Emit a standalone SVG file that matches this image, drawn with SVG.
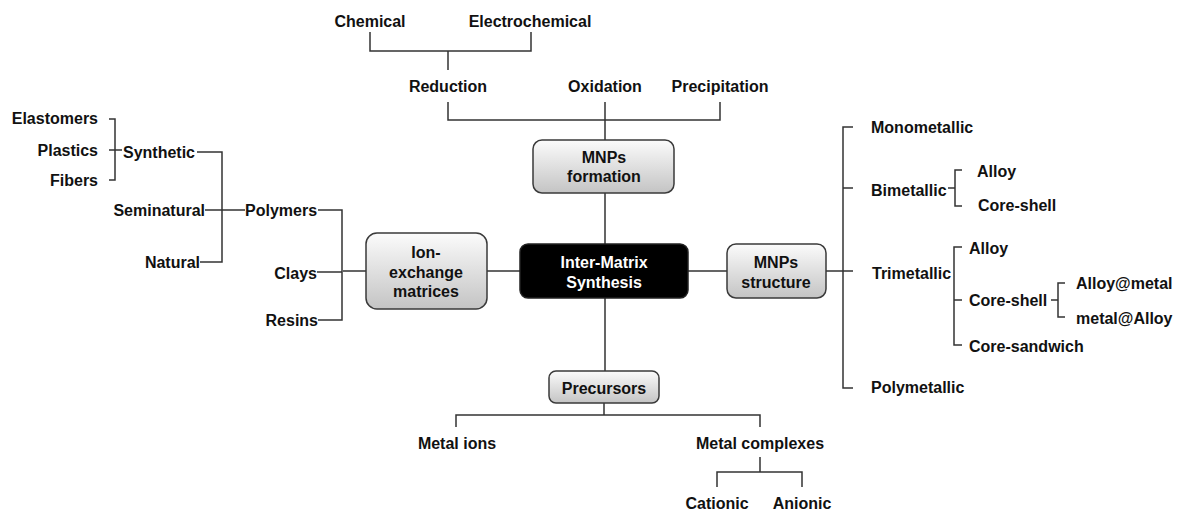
<svg xmlns="http://www.w3.org/2000/svg" width="1181" height="513" viewBox="0 0 1181 513">
<defs>
<linearGradient id="g" x1="0" y1="0" x2="0" y2="1">
<stop offset="0" stop-color="#fbfbfb"/>
<stop offset="1" stop-color="#c4c4c4"/>
</linearGradient>
<style>
text{font-family:"Liberation Sans",Arial,sans-serif;font-weight:bold;font-size:16px;fill:#111;dominant-baseline:central}
.m{text-anchor:middle}
.r{text-anchor:end}
.w{fill:#fff}
.box{fill:url(#g);stroke:#3a3a3a;stroke-width:1.5}
.blk{fill:#000;stroke:#222;stroke-width:1.5}
#connectors path{fill:none;stroke:#333;stroke-width:1.5}
</style>
</defs>
<rect width="1181" height="513" fill="#fff"/>
<g id="connectors">
<path d="M370 32V51H531V32M448 51V70"/>
<path d="M448 102V120H720V102M605 102V140"/>
<path d="M605 193V244M605 298V371M604 403V415M456 427V415H760V427M760 457V472M717 487V472H802V487"/>
<path d="M487 271H520M343 271H366M688 271H727M826 271H853"/>
<path d="M853 127H843V388H853M843 188H853"/>
<path d="M948 188H955M962 170H955V206H962"/>
<path d="M962 247H954V345H962M954 300H962"/>
<path d="M1051 300H1058M1065 283H1058V317H1065"/>
<path d="M109 119H115V180H109M109 150H122"/>
<path d="M197 152H222V262H200M205 210H245"/>
<path d="M318 210H342V320H318M317 272H342"/>
</g>
<g id="n-chemical"><text class="m" x="370" y="21">Chemical</text></g>
<g id="n-electrochemical"><text class="m" x="530" y="21">Electrochemical</text></g>
<g id="n-reduction"><text class="m" x="448" y="86">Reduction</text></g>
<g id="n-oxidation"><text class="m" x="605" y="86">Oxidation</text></g>
<g id="n-precipitation"><text class="m" x="720" y="86">Precipitation</text></g>
<g id="n-formation"><rect class="box" x="533" y="140" width="141" height="53" rx="9"/><text class="m" x="604" y="157">MNPs</text><text class="m" x="604" y="176">formation</text></g>
<g id="n-center"><rect class="blk" x="520" y="244" width="168" height="54" rx="8"/><text class="m w" x="604" y="262">Inter-Matrix</text><text class="m w" x="604" y="282">Synthesis</text></g>
<g id="n-ion"><rect class="box" x="366" y="233" width="121" height="76" rx="11"/><text class="m" x="426" y="252">Ion-</text><text class="m" x="426" y="272">exchange</text><text class="m" x="426" y="291">matrices</text></g>
<g id="n-structure"><rect class="box" x="727" y="244" width="99" height="54" rx="9"/><text class="m" x="776" y="262">MNPs</text><text class="m" x="776" y="282">structure</text></g>
<g id="n-precursors"><rect class="box" x="549" y="371" width="110" height="32" rx="7"/><text class="m" x="604" y="388">Precursors</text></g>
<g id="n-metalions"><text class="m" x="457" y="443">Metal ions</text></g>
<g id="n-metalcomplexes"><text class="m" x="760" y="443">Metal complexes</text></g>
<g id="n-cationic"><text class="m" x="717" y="503">Cationic</text></g>
<g id="n-anionic"><text class="m" x="802" y="503">Anionic</text></g>
<g id="n-monometallic"><text x="871" y="127">Monometallic</text></g>
<g id="n-bimetallic"><text x="871" y="190">Bimetallic</text></g>
<g id="n-bi-alloy"><text x="977" y="171">Alloy</text></g>
<g id="n-bi-coreshell"><text x="978" y="205">Core-shell</text></g>
<g id="n-trimetallic"><text x="872" y="273">Trimetallic</text></g>
<g id="n-tri-alloy"><text x="969" y="248">Alloy</text></g>
<g id="n-tri-coreshell"><text x="969" y="300">Core-shell</text></g>
<g id="n-alloymetal"><text x="1076" y="283">Alloy@metal</text></g>
<g id="n-metalalloy"><text x="1076" y="318">metal@Alloy</text></g>
<g id="n-coresandwich"><text x="969" y="346">Core-sandwich</text></g>
<g id="n-polymetallic"><text x="871" y="387">Polymetallic</text></g>
<g id="n-elastomers"><text class="r" x="98" y="118">Elastomers</text></g>
<g id="n-plastics"><text class="r" x="98" y="150">Plastics</text></g>
<g id="n-fibers"><text class="r" x="98" y="180">Fibers</text></g>
<g id="n-synthetic"><text x="123" y="152">Synthetic</text></g>
<g id="n-seminatural"><text class="r" x="205" y="210">Seminatural</text></g>
<g id="n-natural"><text class="r" x="200" y="262">Natural</text></g>
<g id="n-polymers"><text x="245" y="210">Polymers</text></g>
<g id="n-clays"><text class="r" x="317" y="273">Clays</text></g>
<g id="n-resins"><text class="r" x="318" y="320">Resins</text></g>
</svg>
